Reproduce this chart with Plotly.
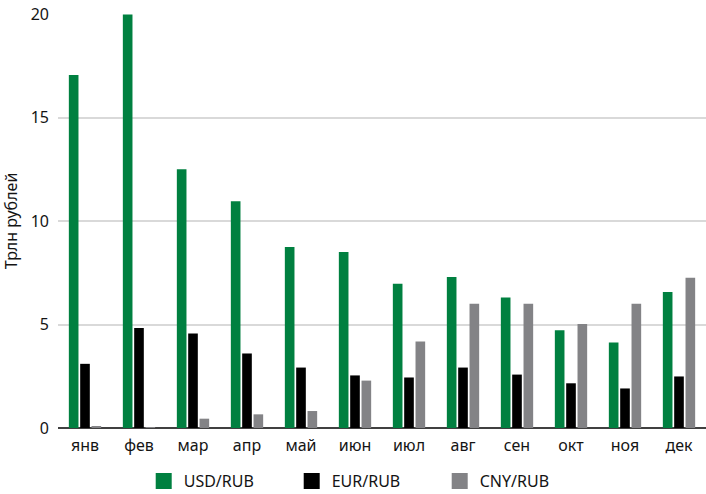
import plotly.graph_objects as go

months = ["янв", "фев", "мар", "апр", "май", "июн", "июл", "авг", "сен", "окт", "ноя", "дек"]
usd_rub = [17.05, 19.97, 12.5, 10.95, 8.75, 8.5, 6.97, 7.3, 6.3, 4.72, 4.13, 6.57]
eur_rub = [3.1, 4.83, 4.57, 3.6, 2.92, 2.54, 2.44, 2.92, 2.58, 2.16, 1.91, 2.49]
cny_rub = [0.07, 0.03, 0.45, 0.66, 0.82, 2.29, 4.18, 6.0, 6.0, 5.02, 6.0, 7.26]

series = [
    ("USD/RUB", usd_rub, "#008040"),
    ("EUR/RUB", eur_rub, "#000000"),
    ("CNY/RUB", cny_rub, "#838386"),
]

FONT = "Noto Sans, Open Sans, sans-serif"
TEXT = "#141414"

fig = go.Figure()
for name, vals, col in series:
    fig.add_trace(go.Bar(
        x=months, y=vals, name=name, showlegend=False,
        marker=dict(color=col, line=dict(width=0)),
    ))
# larger square swatches for the legend
for name, vals, col in series:
    fig.add_trace(go.Scatter(
        x=[None], y=[None], mode="markers", name=name,
        marker=dict(symbol="square", size=16, color=col),
    ))

fig.update_layout(
    width=706, height=494,
    margin=dict(l=58, r=0, t=14, b=66),
    paper_bgcolor="white", plot_bgcolor="white",
    font=dict(family=FONT, size=16, color=TEXT),
    barmode="group", bargap=0.37, bargroupgap=0.15,
    showlegend=True,
    legend=dict(
        orientation="h", xref="container", x=0.518, xanchor="center",
        yref="container", y=0.026, yanchor="middle",
        font=dict(size=16, color=TEXT), entrywidth=103,
        itemclick=False,
    ),
    xaxis=dict(
        showgrid=False, showline=False, ticks="",
        tickfont=dict(size=16, color=TEXT), ticklabelstandoff=6,
    ),
    yaxis=dict(
        range=[0, 20], tickvals=[0, 5, 10, 15, 20],
        showgrid=True, gridcolor="#d9d9d9", gridwidth=1.5,
        zeroline=True, zerolinecolor="#404040", zerolinewidth=1.5,
        showline=False, ticks="", ticklabelstandoff=8,
        tickfont=dict(size=16, color=TEXT),
        title=dict(text="Трлн рублей", font=dict(size=16, color=TEXT), standoff=10),
    ),
)

fig.write_html("out.html")
